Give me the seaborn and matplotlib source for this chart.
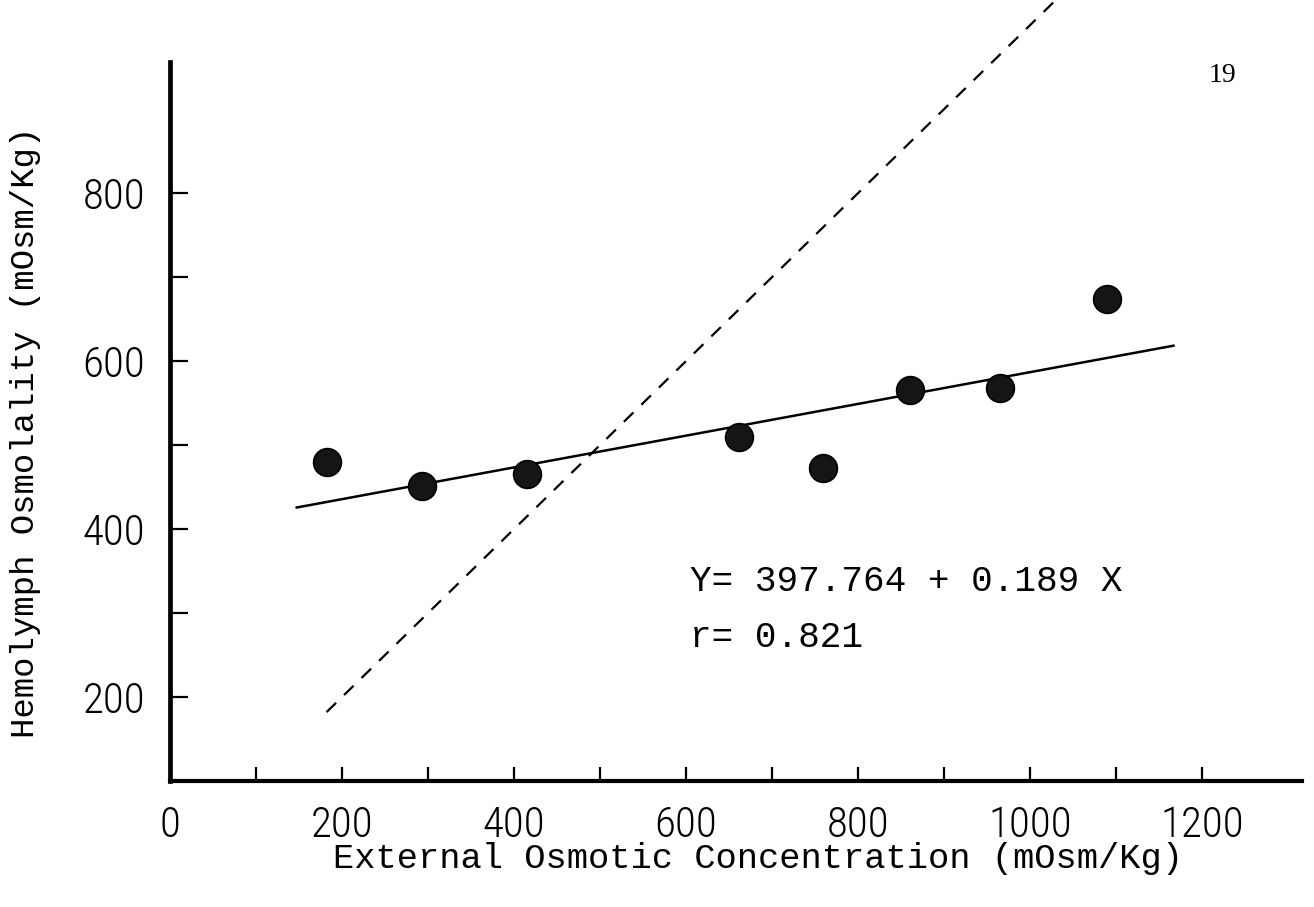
import numpy as np
import pandas as pd
import matplotlib
matplotlib.use("Agg")
import matplotlib.pyplot as plt
from matplotlib import font_manager
import seaborn as sns

# External osmotic concentration vs. hemolymph osmolality (mOsm/Kg)
external = [182, 293, 415, 662, 759, 860, 965, 1089]
hemolymph = [480, 451, 466, 509, 473, 566, 568, 674]

# Fitted regression reported on the chart
intercept = 397.764
slope = 0.189
r_value = 0.821
fit_range = [147, 1167]

# Iso-osmotic (Y = X) reference line
iso_range = [182, 1030]

x_ticks = list(range(0, 1300, 100))
x_ticklabels = [str(v) if v % 200 == 0 else "" for v in x_ticks]
y_ticks = list(range(200, 900, 100))
y_ticklabels = [str(v) if v % 200 == 0 else "" for v in y_ticks]

sns.set_theme(style="ticks")
plt.rcParams["font.family"] = ["DejaVu Sans"]

# Narrow, light face for the tick numbers, if one is installed
entries = font_manager.fontManager.ttflist
names = {f.name for f in entries}
tick_font = dict(family="Roboto", weight="light", size=29)
for cand in ["Liberation Sans Narrow", "Roboto Condensed", "Open Sans Condensed"]:
    if cand in names:
        tick_font = dict(family=cand, weight="light", size=31)
        break
else:
    if any(f.name == "DejaVu Sans" and str(f.stretch) in ("condensed", "semi-condensed")
           for f in entries):
        tick_font = dict(family="DejaVu Sans", weight="light", size=30,
                         stretch="condensed")
    elif "Roboto" not in names:
        tick_font = dict(family="DejaVu Sans", weight="normal", size=28)

fig = plt.figure(figsize=(13.14, 9.07), dpi=100)
ax = fig.add_axes([170 / 1314, 126 / 907, 1132 / 1314, 719 / 907])

points = pd.DataFrame({"external": external, "hemolymph": hemolymph})
fit = pd.DataFrame({"x": fit_range})
fit["y"] = intercept + slope * fit["x"]
iso = pd.DataFrame({"x": iso_range, "y": iso_range})

sns.lineplot(data=iso, x="x", y="y", ax=ax, color="black", lw=1.6,
             linestyle=(0, (6, 5)), clip_on=False)
sns.lineplot(data=fit, x="x", y="y", ax=ax, color="black", lw=1.8)
sns.scatterplot(data=points, x="external", y="hemolymph", ax=ax, s=400,
                color="#151515", edgecolor="black", linewidth=1.2, zorder=5)

ax.set_xlim(0, 1316)
ax.set_ylim(100, 956)

ax.set_xticks(x_ticks)
ax.set_xticklabels(x_ticklabels)
ax.set_yticks(y_ticks)
ax.set_yticklabels(y_ticklabels)

ax.tick_params(axis="x", direction="in", length=10, width=1.6, pad=17,
               colors="black")
ax.tick_params(axis="y", direction="in", length=13, width=1.6, pad=18,
               colors="black")
for lab in ax.get_xticklabels() + ax.get_yticklabels():
    lab.set_fontfamily(tick_font["family"])
    lab.set_fontweight(tick_font["weight"])
    lab.set_fontsize(tick_font["size"])
    if "stretch" in tick_font:
        lab.set_fontstretch(tick_font["stretch"])

sns.despine(ax=ax)
ax.spines["left"].set_linewidth(3.4)
ax.spines["bottom"].set_linewidth(3.0)
ax.spines["left"].set_color("black")
ax.spines["bottom"].set_color("black")

mono = ["Liberation Mono", "DejaVu Sans Mono"]
ax.set_xlabel("External Osmotic Concentration (mOsm/Kg)", fontsize=25.5,
              family=mono, color="black", va="center")
ax.xaxis.set_label_coords(0.519, -0.108)
ax.set_ylabel("Hemolymph Osmolality (mOsm/Kg)", fontsize=24.5,
              family=mono, color="black", va="center")
ax.yaxis.set_label_coords(-0.128, 0.485)

ax.text(605, 337, f"Y= {intercept:.3f} + {slope:.3f} X", fontsize=26,
        family=mono, color="black", va="center", ha="left")
ax.text(605, 271, f"r= {r_value:.3f}", fontsize=26,
        family=mono, color="black", va="center", ha="left")

fig.text(1222 / 1314, 1 - 75 / 907, "19", fontsize=20,
         family=["Liberation Serif", "DejaVu Serif"], color="black",
         ha="center", va="center")

fig.savefig("out.png", dpi=100, facecolor="white")
